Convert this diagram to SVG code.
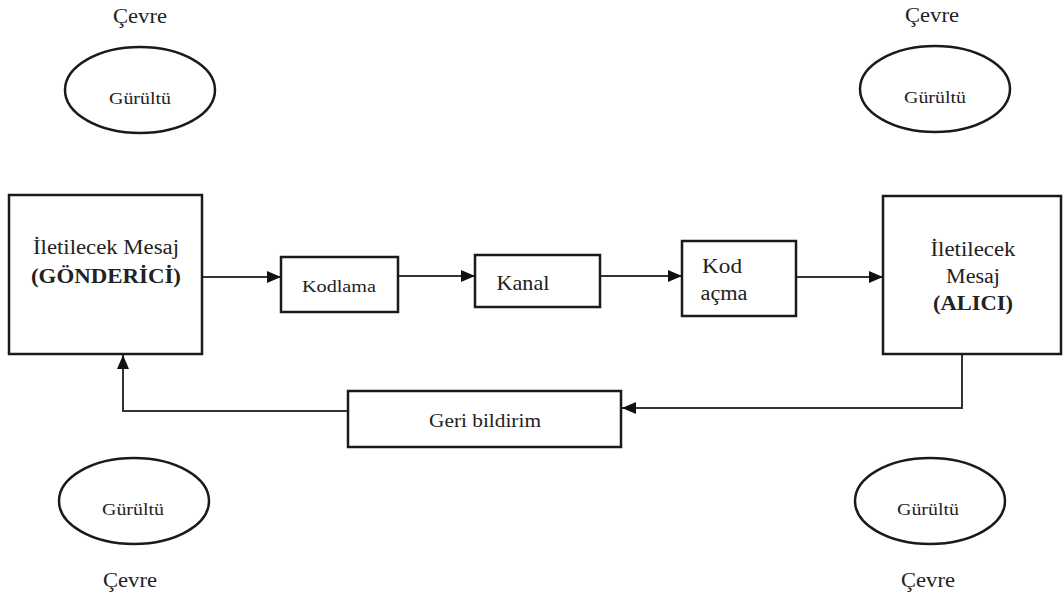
<svg xmlns="http://www.w3.org/2000/svg" width="1063" height="601" viewBox="0 0 1063 601">
<style>
.box{fill:#fff;stroke:#1a1a1a;stroke-width:2.5}
.ell{fill:#fff;stroke:#1a1a1a;stroke-width:2.5}
.ln{fill:none;stroke:#333;stroke-width:2}
.t{font-family:'Liberation Serif','Times New Roman','DejaVu Serif',serif;fill:#222;text-anchor:middle}
.b{font-weight:bold}
</style>
<defs>
<marker id="ah" markerUnits="userSpaceOnUse" markerWidth="15" markerHeight="12" refX="14" refY="6" orient="auto">
<path d="M0,0 L14,6 L0,12 z" fill="#111"/>
</marker>
</defs>
<rect width="1063" height="601" fill="#fff"/>
<g id="connectors">
<line class="ln" x1="202" y1="277" x2="281" y2="277" marker-end="url(#ah)"/>
<line class="ln" x1="398" y1="276" x2="475" y2="276" marker-end="url(#ah)"/>
<line class="ln" x1="600" y1="276" x2="682" y2="276" marker-end="url(#ah)"/>
<line class="ln" x1="796" y1="277" x2="883" y2="277" marker-end="url(#ah)"/>
<polyline class="ln" points="962,354 962,408 622,408" marker-end="url(#ah)"/>
<polyline class="ln" points="348,411 123,411 123,355" marker-end="url(#ah)"/>
</g>
<g id="env-tl">
<text class="t" x="140" y="23" font-size="20" textLength="54" lengthAdjust="spacingAndGlyphs">Çevre</text>
<ellipse class="ell" cx="140" cy="90" rx="75" ry="43"/>
<text class="t" x="140" y="104" font-size="17" textLength="62" lengthAdjust="spacingAndGlyphs">Gürültü</text>
</g>
<g id="env-tr">
<text class="t" x="932" y="22" font-size="20" textLength="54" lengthAdjust="spacingAndGlyphs">Çevre</text>
<ellipse class="ell" cx="935" cy="89" rx="75" ry="43"/>
<text class="t" x="935" y="103" font-size="17" textLength="62" lengthAdjust="spacingAndGlyphs">Gürültü</text>
</g>
<g id="env-bl">
<ellipse class="ell" cx="134" cy="501" rx="75" ry="43"/>
<text class="t" x="133" y="515" font-size="17" textLength="62" lengthAdjust="spacingAndGlyphs">Gürültü</text>
<text class="t" x="130" y="587" font-size="20" textLength="54" lengthAdjust="spacingAndGlyphs">Çevre</text>
</g>
<g id="env-br">
<ellipse class="ell" cx="930" cy="501" rx="75" ry="43"/>
<text class="t" x="928" y="515" font-size="17" textLength="62" lengthAdjust="spacingAndGlyphs">Gürültü</text>
<text class="t" x="928" y="587" font-size="20" textLength="54" lengthAdjust="spacingAndGlyphs">Çevre</text>
</g>
<g id="sender">
<rect class="box" x="9" y="195" width="193" height="159"/>
<text class="t" x="106" y="254" font-size="20" textLength="146" lengthAdjust="spacingAndGlyphs">İletilecek Mesaj</text>
<text class="t b" x="106" y="283" font-size="20" textLength="150" lengthAdjust="spacingAndGlyphs">(GÖNDERİCİ)</text>
</g>
<g id="encode">
<rect class="box" x="281" y="257" width="117" height="55"/>
<text class="t" x="339" y="292" font-size="17" textLength="74" lengthAdjust="spacingAndGlyphs">Kodlama</text>
</g>
<g id="channel">
<rect class="box" x="475" y="255" width="125" height="52"/>
<text class="t" x="523" y="290" font-size="21" textLength="53" lengthAdjust="spacingAndGlyphs">Kanal</text>
</g>
<g id="decode">
<rect class="box" x="682" y="241" width="114" height="75"/>
<text class="t" x="722" y="273" font-size="20" textLength="40" lengthAdjust="spacingAndGlyphs">Kod</text>
<text class="t" x="724" y="300" font-size="20" textLength="47" lengthAdjust="spacingAndGlyphs">açma</text>
</g>
<g id="receiver">
<rect class="box" x="883" y="196" width="178" height="158"/>
<text class="t" x="973" y="256" font-size="20" textLength="85" lengthAdjust="spacingAndGlyphs">İletilecek</text>
<text class="t" x="973" y="283" font-size="20" textLength="54" lengthAdjust="spacingAndGlyphs">Mesaj</text>
<text class="t b" x="973" y="310" font-size="20" textLength="80" lengthAdjust="spacingAndGlyphs">(ALICI)</text>
</g>
<g id="feedback">
<rect class="box" x="348" y="391" width="273" height="56"/>
<text class="t" x="485" y="427" font-size="19" textLength="112" lengthAdjust="spacingAndGlyphs">Geri bildirim</text>
</g>
</svg>
